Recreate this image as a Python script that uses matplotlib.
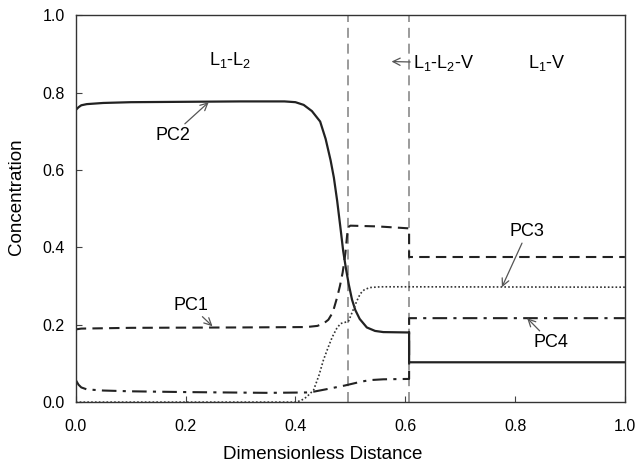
import numpy as np
import matplotlib
matplotlib.use('Agg')
import matplotlib.pyplot as plt

plt.rcParams['font.family'] = ['Liberation Sans', 'DejaVu Sans']
plt.rcParams['mathtext.fontset'] = 'custom'
plt.rcParams['mathtext.rm'] = 'Liberation Sans'
plt.rcParams['mathtext.it'] = 'Liberation Sans'

# PC2 (solid)
x_pc2 = [0.0, 0.005, 0.01, 0.02, 0.05, 0.1, 0.2, 0.3, 0.38, 0.40, 0.415, 0.43, 0.445,
         0.455, 0.464, 0.47, 0.476, 0.482, 0.487, 0.492, 0.497, 0.503, 0.509, 0.517,
         0.53, 0.545, 0.56, 0.607, 0.607, 1.0]
y_pc2 = [0.755, 0.762, 0.767, 0.770, 0.773, 0.775, 0.776, 0.777, 0.777, 0.775, 0.768, 0.752, 0.725,
         0.68, 0.625, 0.58, 0.52, 0.45, 0.39, 0.345, 0.305, 0.265, 0.238, 0.215,
         0.193, 0.184, 0.181, 0.180, 0.103, 0.103]

# PC1 (dashed)
x_pc1 = [0.0, 0.01, 0.1, 0.3, 0.42, 0.44, 0.452, 0.46, 0.468, 0.476, 0.481, 0.486,
         0.491, 0.494, 0.496, 0.50, 0.55, 0.607, 0.607, 1.0]
y_pc1 = [0.188, 0.190, 0.192, 0.193, 0.194, 0.197, 0.204, 0.213, 0.232, 0.271, 0.300, 0.335,
         0.385, 0.430, 0.452, 0.456, 0.454, 0.449, 0.375, 0.375]

# PC3 (dotted)
x_pc3 = [0.0, 0.40, 0.41, 0.42, 0.433, 0.443, 0.451, 0.46, 0.467, 0.475, 0.482, 0.49,
         0.497, 0.505, 0.512, 0.518, 0.525, 0.535, 0.555, 0.607, 1.0]
y_pc3 = [0.0, 0.0, 0.004, 0.013, 0.031, 0.070, 0.109, 0.143, 0.168, 0.190, 0.203, 0.206,
         0.210, 0.238, 0.262, 0.280, 0.290, 0.296, 0.298, 0.298, 0.297]

# PC4 (dash-dot)
x_pc4 = [0.0, 0.005, 0.01, 0.02, 0.05, 0.1, 0.2, 0.35, 0.42, 0.433, 0.455, 0.476,
         0.49, 0.505, 0.52, 0.536, 0.56, 0.607, 0.607, 1.0]
y_pc4 = [0.057, 0.045, 0.038, 0.033, 0.030, 0.028, 0.026, 0.024, 0.025, 0.027, 0.033, 0.039,
         0.043, 0.048, 0.053, 0.057, 0.059, 0.060, 0.217, 0.217]

fronts = [0.495, 0.607]

fig = plt.figure(figsize=(6.37, 4.72), dpi=100)
ax = fig.add_axes([0.119, 0.148, 0.862, 0.820])

for xf in fronts:
    ax.axvline(xf, color='#8a8a8a', lw=1.2, dashes=(6, 3.5))

ax.plot(x_pc2, y_pc2, color='#222222', lw=1.6)
ax.plot(x_pc1, y_pc1, color='#222222', lw=1.5, dashes=(5, 3))
ax.plot(x_pc3, y_pc3, color='#333333', lw=1.2, dashes=(1, 1.3))
ax.plot(x_pc4, y_pc4, color='#222222', lw=1.5, dashes=(7, 3, 1.5, 3))

ax.set_xlim(0, 1)
ax.set_ylim(0, 1)
ax.set_xticks(np.arange(0, 1.01, 0.2))
ax.set_yticks(np.arange(0, 1.01, 0.2))
ax.xaxis.set_major_formatter(matplotlib.ticker.FormatStrFormatter('%.1f'))
ax.yaxis.set_major_formatter(matplotlib.ticker.FormatStrFormatter('%.1f'))
ax.tick_params(direction='in', length=4, labelsize=11.5, color='#444444')
ax.tick_params(axis='x', pad=12)
ax.tick_params(axis='y', pad=8)
for s in ax.spines.values():
    s.set_linewidth(1.0)
    s.set_color('#333333')

ax.set_xlabel('Dimensionless Distance', fontsize=13.5)
ax.set_ylabel('Concentration', fontsize=13.5)
ax.xaxis.set_label_coords(0.45, -0.113)
ax.yaxis.set_label_coords(-0.093, 0.53)

arr = dict(arrowstyle='->', color='#555555', lw=0.9, shrinkA=0, shrinkB=0)
ax.annotate('PC2', xy=(0.242, 0.775), xytext=(0.176, 0.69), fontsize=13,
            ha='center', va='center', arrowprops=arr)
ax.annotate('PC1', xy=(0.249, 0.196), xytext=(0.209, 0.25), fontsize=13,
            ha='center', va='center', arrowprops=arr)
ax.annotate('PC3', xy=(0.776, 0.297), xytext=(0.822, 0.44), fontsize=13,
            ha='center', va='center', arrowprops=arr)
ax.annotate('PC4', xy=(0.822, 0.217), xytext=(0.865, 0.155), fontsize=13,
            ha='center', va='center', arrowprops=arr)

ax.text(0.282, 0.884, 'L$_1$-L$_2$', fontsize=13, ha='center', va='center')
ax.annotate('L$_1$-L$_2$-V', xy=(0.575, 0.88), xytext=(0.614, 0.877), fontsize=13,
            ha='left', va='center', arrowprops=arr)
ax.text(0.858, 0.877, 'L$_1$-V', fontsize=13, ha='center', va='center')

fig.savefig('out.png', dpi=100)
